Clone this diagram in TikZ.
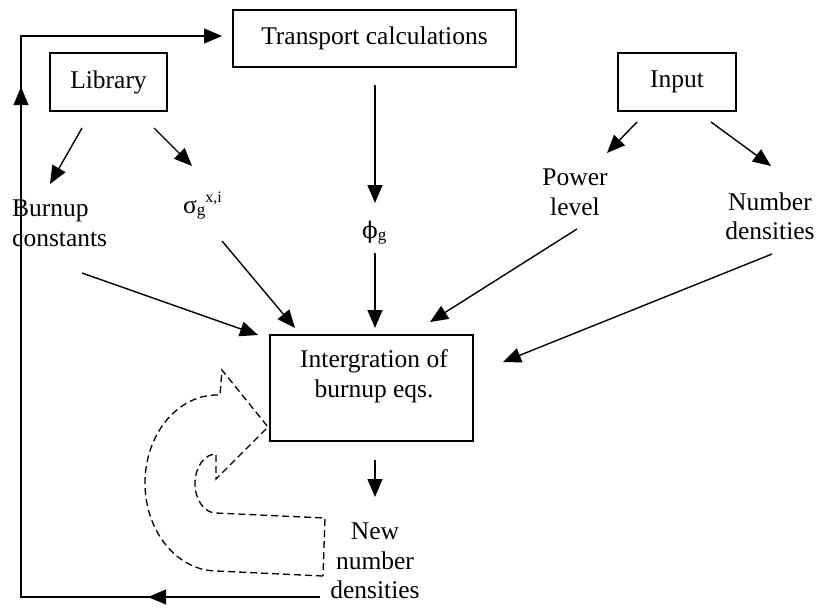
\documentclass[tikz,border=0pt]{standalone}
\usepackage{fontspec}
\setmainfont{Liberation Serif}
\newfontfamily\dvserif{DejaVu Serif}
\usetikzlibrary{arrows.meta,decorations.markings}
\begin{document}
\begin{tikzpicture}[x=1pt,y=-1pt,
  box/.style={draw,line width=1.3pt,inner sep=0pt},
  lbl/.style={inner sep=0pt,align=center,font=\fontsize{25.5}{29.5}\selectfont},
  arr/.style={line width=1.4pt,-{Triangle[length=18pt,width=15pt]}},
  midtip/.style={postaction={decorate},decoration={markings,mark=at position #1 with {\arrow{Triangle[length=18pt,width=15pt]}}}},
  dashline/.style={line width=1.3pt,dash pattern=on 7pt off 4pt}
]
\useasboundingbox (0,0) rectangle (818,608);

% boxes
\node[box,lbl,minimum width=283pt,minimum height=57pt] (trans) at (374.5,38.5) {Transport calculations};
\node[box,lbl,minimum width=117pt,minimum height=58pt] (lib) at (108.5,82) {Library};
\node[box,lbl,minimum width=118pt,minimum height=58pt] (inp) at (677,82) {Input};
\node[box,minimum width=203pt,minimum height=106pt] (integ) at (371.5,388) {};
\node[lbl] (intxt) at (374,376) {Intergration of\\burnup eqs.};

% labels
\node[lbl,align=left,anchor=west] (burn) at (12,223.5) {Burnup\\constants};
\node[lbl] (power) at (575,192.5) {Power\\level};
\node[lbl] (numd) at (770,216.5) {Number\\densities};
\node[lbl] (newnd) at (375,561) {New\\number\\densities};
\node[lbl,anchor=base west] (sigma) at (183,213) {σ\raisebox{-2pt}{\fontsize{17}{17}\selectfont g}\raisebox{11pt}{\fontsize{16}{16}\selectfont x,i}};
\node[lbl,anchor=base west] (phi) at (362,238) {{\dvserif\fontsize{23}{23}\selectfont ϕ}\raisebox{-2pt}{\fontsize{17}{17}\selectfont g}};

% connector ends
\coordinate (libA) at (82,128);   \coordinate (burnT) at (50,184);
\coordinate (libB) at (154,128);  \coordinate (sigT) at (192,166);
\coordinate (trS) at (375,85);    \coordinate (phiT) at (375,203);
\coordinate (phiS) at (375,253);  \coordinate (intT) at (375,328);
\coordinate (burnS) at (82,273);  \coordinate (intA) at (258,335);
\coordinate (sigS) at (222,241);  \coordinate (intB) at (295,328);
\coordinate (powS) at (577,229);  \coordinate (intC) at (430,322);
\coordinate (numS) at (772,254);  \coordinate (intD) at (503,362);
\coordinate (inpA) at (637,122);  \coordinate (powT) at (607,153);
\coordinate (inpB) at (711,122);  \coordinate (numT) at (771,166);
\coordinate (intS) at (375,460);  \coordinate (newT) at (375,497);

\draw[arr] (libA) -- (burnT);
\draw[arr] (libB) -- (sigT);
\draw[arr] (trS) -- (phiT);
\draw[arr] (phiS) -- (intT);
\draw[arr] (burnS) -- (intA);
\draw[arr] (sigS) -- (intB);
\draw[arr] (powS) -- (intC);
\draw[arr] (numS) -- (intD);
\draw[arr] (inpA) -- (powT);
\draw[arr] (inpB) -- (numT);
\draw[arr] (intS) -- (newT);

% feedback loop
\coordinate (fbS) at (320,597);
\coordinate (fbL) at (21,597);
\coordinate (fbT) at (21,36);
\coordinate (fbE) at (222,36);
\draw[arr] (fbS) -- (fbL) -- (fbT) -- (fbE);
\path[midtip=0.575] (fbS) -- (fbL);
\path[midtip=0.909] (fbL) -- (fbT);

% dashed U-turn arrow
\draw[dashline] (323,576) -- (217,571)
  .. controls (177.3,571) and (145,531.6) .. (145,483)
  .. controls (145,434.4) and (177.3,395) .. (217,395)
  -- (220,395) -- (222,370) -- (268,427) -- (216,479) -- (216,454)
  .. controls (204.4,454) and (195,467.2) .. (195,483.5)
  .. controls (195,499.8) and (204.4,513) .. (216,513)
  -- (325,518) -- cycle;
\end{tikzpicture}
\end{document}
